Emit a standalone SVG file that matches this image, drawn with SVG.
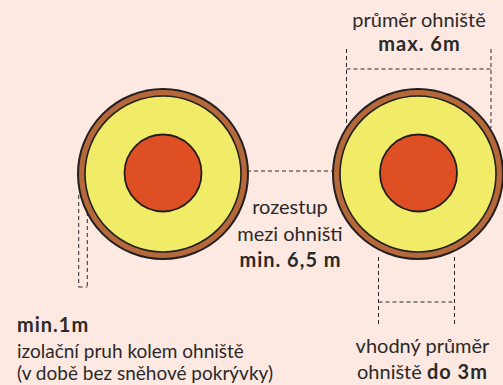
<svg xmlns="http://www.w3.org/2000/svg" width="503" height="385" viewBox="0 0 503 385">
<style>
.ring{fill:#b5693a;stroke:#231f20;stroke-width:2}
.zone{fill:#f0ec68;stroke:#231f20;stroke-width:1.6}
.fire{fill:#de4f23;stroke:#231f20;stroke-width:1.8}
.dash{fill:none;stroke:#2a2a2a;stroke-width:1;stroke-dasharray:4 3}
text{font-family:Lato,"Open Sans","DejaVu Sans",sans-serif;font-size:20px;fill:#2b2a29}
.b{font-weight:700;letter-spacing:1px}
.m{text-anchor:middle}
.s{font-size:19px}
</style>
<rect width="503" height="385" fill="#fde8e2"/>
<g id="connectors">
<path class="dash" d="M247 171H340"/>
<path class="dash" d="M346.5 49V134M491 49V128M346.5 69H491"/>
<path class="dash" d="M378.5 257V325M454.5 257V325M378.5 302H454.5"/>
<path class="dash" d="M78.7 195V287M87.3 205V287M78.7 287H87.3"/>
</g>
<g id="fireplace-left">
<circle class="ring" cx="163" cy="174" r="85"/>
<circle class="zone" cx="163" cy="174" r="78"/>
<circle class="fire" cx="163" cy="173" r="38.5"/>
</g>
<g id="fireplace-right">
<circle class="ring" cx="418" cy="174" r="85"/>
<circle class="zone" cx="418" cy="174" r="78"/>
<circle class="fire" cx="418.5" cy="173" r="38.5"/>
</g>
<g id="label-max">
<text class="m" x="419" y="27">průměr ohniště</text>
<text class="m b" x="419.5" y="51">max. 6m</text>
</g>
<g id="label-spacing">
<text class="m" x="290" y="214">rozestup</text>
<text class="m" x="290" y="240.5">mezi ohništi</text>
<text class="m b" x="290.5" y="267">min. 6,5 m</text>
</g>
<g id="label-strip">
<text class="b" x="17" y="332">min.1m</text>
<text class="s" x="17" y="358">izolační pruh kolem ohniště</text>
<text class="s" x="17" y="380">(v době bez sněhové pokrývky)</text>
</g>
<g id="label-suitable">
<text class="m" x="422.5" y="353">vhodný průměr</text>
<text class="m" x="422.5" y="379">ohniště <tspan class="b">do 3m</tspan></text>
</g>
</svg>
